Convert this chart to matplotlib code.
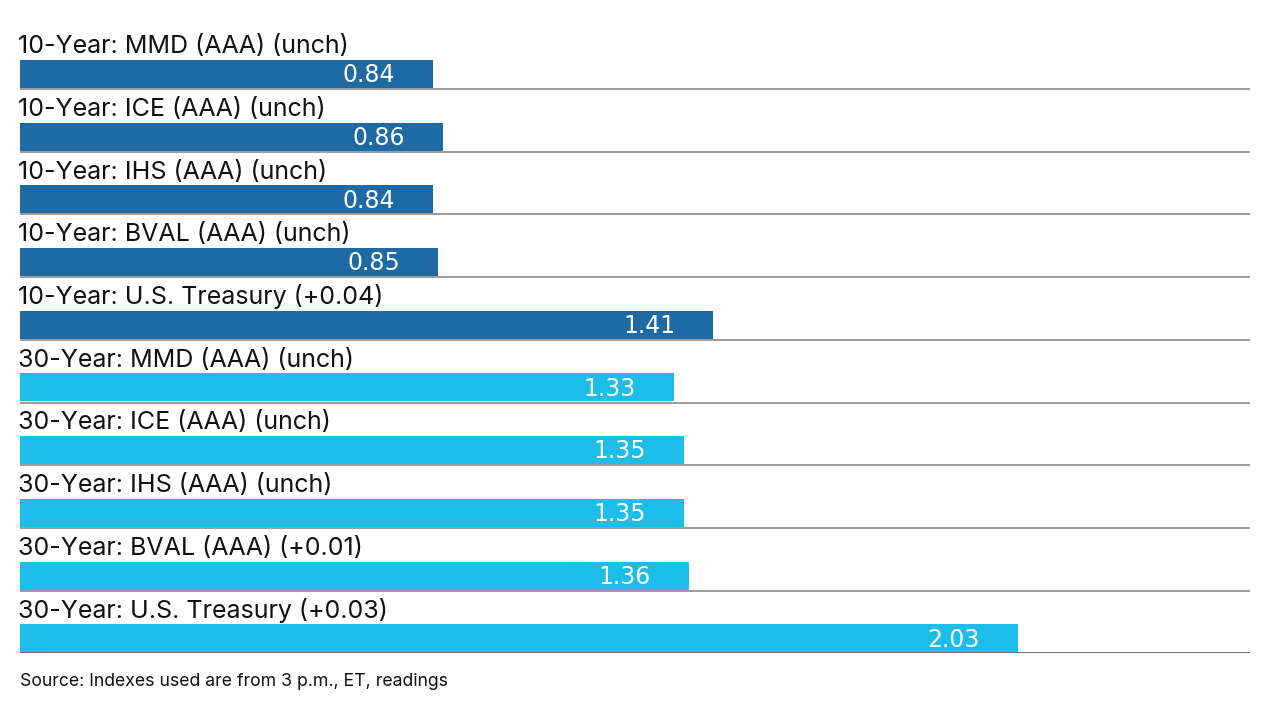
import matplotlib
matplotlib.use("Agg")
import matplotlib.pyplot as plt

labels = [
    "10-Year: MMD (AAA) (unch)",
    "10-Year: ICE (AAA) (unch)",
    "10-Year: IHS (AAA) (unch)",
    "10-Year: BVAL (AAA) (unch)",
    "10-Year: U.S. Treasury (+0.04)",
    "30-Year: MMD (AAA) (unch)",
    "30-Year: ICE (AAA) (unch)",
    "30-Year: IHS (AAA) (unch)",
    "30-Year: BVAL (AAA) (+0.01)",
    "30-Year: U.S. Treasury (+0.03)",
]
values = [0.84, 0.86, 0.84, 0.85, 1.41, 1.33, 1.35, 1.35, 1.36, 2.03]
groups = ["10", "10", "10", "10", "10", "30", "30", "30", "30", "30"]
colors = {"10": "#1d6aa4", "30": "#1cbde9"}
source = "Source: Indexes used are from 3 p.m., ET, readings"

fig = plt.figure(figsize=(12.8, 7.2), dpi=100)
ax = fig.add_axes([20 / 1280, 1 - 653.3 / 720, 1230 / 1280, 627 / 720])
ax.set_xlim(0, 1230 / 491.6)
ax.set_ylim(10, 0)
ax.axis("off")

bar_top = 0.537
bar_h = 0.447
for i, (lab, v, g) in enumerate(zip(labels, values, groups)):
    ax.barh(i + bar_top, v, height=bar_h, align="edge", color=colors[g], linewidth=0)
    ax.text(-0.004, i + 0.43, lab, fontsize=18, family=["Inter", "DejaVu Sans"],
            color="#111111", ha="left", va="baseline")
    ax.text(v - 0.077, i + bar_top + bar_h / 2 + 0.02, f"{v:.2f}", fontsize=17,
            family="DejaVu Sans", color="white", ha="right", va="center")
    ax.axhline(i + 1, color="#8a8a8a" if i < 9 else "#555555", linewidth=1.2)

fig.text(20 / 1280, 1 - 681 / 720, source, fontsize=12.7, family=["Inter", "DejaVu Sans"],
         color="#111111", ha="left", va="center")

fig.savefig("out.png", dpi=100, facecolor="white")
